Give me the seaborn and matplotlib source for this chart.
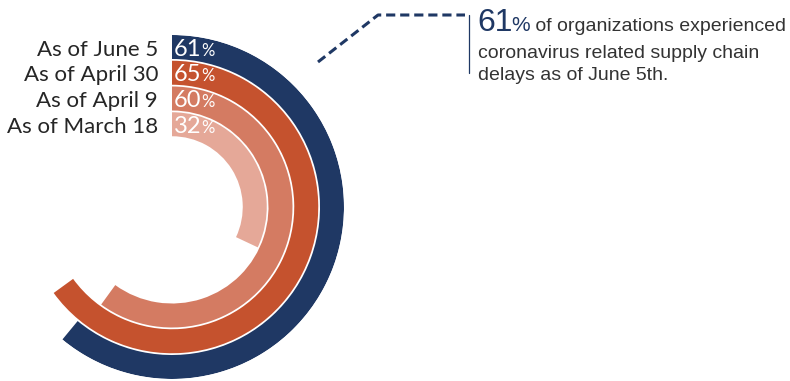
import numpy as np
import pandas as pd
import matplotlib
matplotlib.use("Agg")
import matplotlib.pyplot as plt
from matplotlib.lines import Line2D
import seaborn as sns

# ---- data ----
labels = ["As of June 5", "As of April 30", "As of April 9", "As of March 18"]
values = [61, 65, 60, 32]
colors = ["#1F3864", "#C5522E", "#D47B62", "#E5A898"]
callout_value = "61"
callout_lines = ["of organizations experienced",
                 "coronavirus related supply chain",
                 "delays as of June 5th."]

W, H = 790, 381
sns.set_style("white")
fig = plt.figure(figsize=(W / 100, H / 100), dpi=100)

# polar axes: centre (172, 207) px, outer radius 172 px; r measured in px
cx, cy, R = 172, 207, 172
ax = fig.add_axes([(cx - R) / W, (H - cy - R) / H, 2 * R / W, 2 * R / H],
                  projection="polar")
ax.set_theta_zero_location("N")
ax.set_theta_direction(-1)

pitch = 25.75
radii = [R - 12 - i * pitch for i in range(len(values))]
df = pd.DataFrame({
    "label": labels,
    "theta": [v / 100 * 2 * np.pi for v in values],
    "r": radii,
})
sns.barplot(data=df, x="theta", y="r", hue="label", palette=colors,
            orient="h", native_scale=True, width=24 / pitch,
            saturation=1, errorbar=None, legend=False, ax=ax,
            linewidth=0)
ax.set_xlim(0, 2 * np.pi)
ax.set_ylim(0, R)
ax.set_axis_off()


def fp(x, y):
    return x / W, 1 - y / H


fig.canvas.draw()
renderer = fig.canvas.get_renderer()


def txt(x, y, s, **kw):
    return fig.text(*fp(x, y), s, va="baseline", **kw)


def after(t, y, s, gap=0, **kw):
    bb = t.get_window_extent(renderer)
    return fig.text(bb.x1 / W + gap / W, 1 - y / H, s, va="baseline",
                    ha="left", **kw)


# ring labels
for lab, val, r in zip(labels, values, radii):
    base = cy - r + 8.5
    txt(cx - 14, base, lab, ha="right", fontsize=16, family="Lato",
        color="#262626")
    t = txt(cx + 2, base, str(val), ha="left", fontsize=17, family="Lato",
            color="white")
    after(t, base, "%", gap=-0.5, fontsize=12, family="Lato", color="white")

# callout
navy = "#1F3864"
xs, ys = zip(*[fp(318, 62), fp(378, 15), fp(465, 15)])
fig.add_artist(Line2D(xs, ys, transform=fig.transFigure, color=navy, lw=2.2,
                      dashes=(3.0, 1.6)))
xs, ys = zip(*[fp(469, 15), fp(469, 73)])
fig.add_artist(Line2D(xs, ys, transform=fig.transFigure, color=navy, lw=0.9))

t61 = txt(477, 31, callout_value, ha="left", fontsize=23,
          family="Liberation Sans", color=navy)
pct = after(t61, 31, "%", gap=-1, fontsize=15, family="Liberation Sans",
            color=navy)
after(pct, 31, " " + callout_lines[0], fontsize=14, family="Liberation Sans",
      color="#333333")
txt(478, 58, callout_lines[1], ha="left", fontsize=14,
    family="Liberation Sans", color="#333333")
txt(478, 80, callout_lines[2], ha="left", fontsize=14,
    family="Liberation Sans", color="#333333")

fig.savefig("out.png", dpi=100)
